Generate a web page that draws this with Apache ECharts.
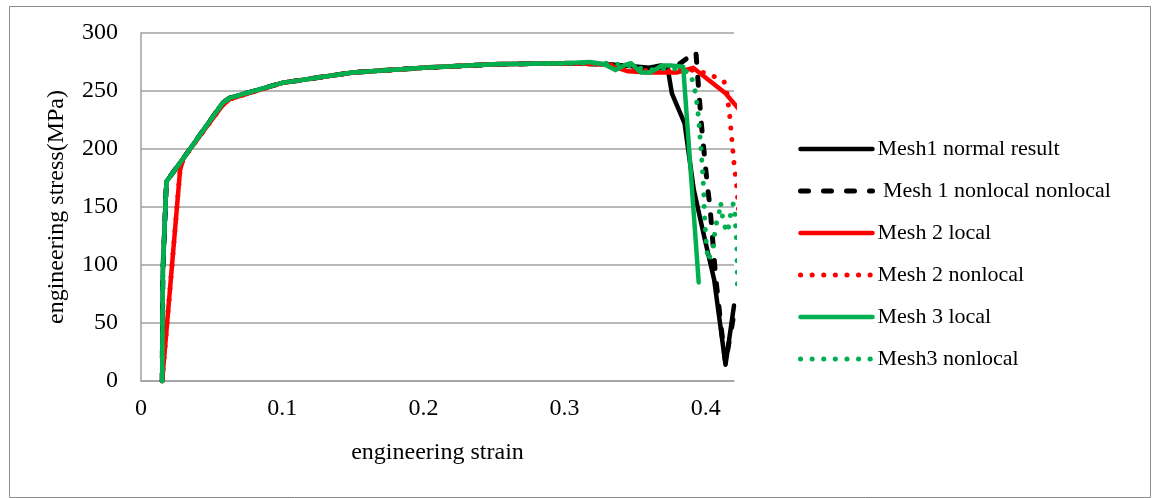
<!DOCTYPE html>
<html>
<head>
<meta charset="utf-8">
<script src="https://cdn.jsdelivr.net/npm/echarts@6/dist/echarts.min.js"></script>
<style>
html,body{margin:0;padding:0;background:#fff;}
#c{width:1153px;height:498px;}
</style>
</head>
<body>
<div id="c"></div>
<script>
// ---- data ----
const seriesNames = ['Mesh1 normal result', ' Mesh 1 nonlocal nonlocal', 'Mesh 2 local', 'Mesh 2 nonlocal', 'Mesh 3 local', 'Mesh3 nonlocal'];
const xTickLabels = ['0', '0.1', '0.2', '0.3', '0.4'];
const yTickLabels = ['0', '50', '100', '150', '200', '250', '300'];

const strainM1 = [0.015, 0.0155, 0.018, 0.03, 0.058, 0.063, 0.1, 0.15, 0.2, 0.25, 0.3, 0.33, 0.342, 0.36, 0.368, 0.373, 0.376, 0.385, 0.3915, 0.399, 0.406, 0.414, 0.42];
const stressM1 = [0, 95, 172, 192, 240, 244, 257, 266, 270, 273, 274, 273, 272, 270, 272, 270, 248, 222, 165, 124, 87, 14, 65];

const strainM1n = [0.015, 0.0155, 0.018, 0.03, 0.058, 0.063, 0.1, 0.15, 0.2, 0.25, 0.3, 0.33, 0.35, 0.37, 0.38, 0.393, 0.395, 0.397, 0.401, 0.403, 0.407, 0.411, 0.414, 0.42];
const stressM1n = [0, 95, 172, 192, 240, 244, 257, 266, 270, 273, 274, 273, 270, 270, 272, 284, 251, 220, 170, 150, 90, 45, 16, 58];

const strainM2 = [0.015, 0.0277, 0.03, 0.058, 0.063, 0.1, 0.15, 0.2, 0.25, 0.3, 0.33, 0.345, 0.36, 0.38, 0.391, 0.414, 0.425];
const stressM2 = [0, 182, 192, 238, 243, 257, 266, 270, 273, 274, 273, 267, 266, 266, 270, 248, 232];

const strainM2n = [0.015, 0.0277, 0.03, 0.058, 0.063, 0.1, 0.15, 0.2, 0.25, 0.3, 0.33, 0.35, 0.37, 0.38, 0.39, 0.398, 0.405, 0.413, 0.415, 0.417, 0.4185, 0.42, 0.422, 0.425];
const stressM2n = [0, 182, 192, 238, 243, 257, 266, 270, 273, 274, 273, 268, 267, 268, 268, 266, 263, 258, 248, 228, 208, 188, 167, 120];

const strainM3 = [0.015, 0.0155, 0.018, 0.03, 0.058, 0.063, 0.1, 0.15, 0.2, 0.25, 0.3, 0.318, 0.328, 0.336, 0.342, 0.347, 0.354, 0.361, 0.369, 0.375, 0.384, 0.395];
const stressM3 = [0, 95, 172, 192, 240, 244, 257, 266, 270, 273, 274, 275, 273, 268, 272, 274, 266, 266, 272, 272, 271, 85];

const strainM3n = [0.015, 0.0155, 0.018, 0.03, 0.058, 0.063, 0.1, 0.15, 0.2, 0.25, 0.3, 0.33, 0.345, 0.36, 0.375, 0.389, 0.391, 0.393, 0.394, 0.395, 0.3955, 0.3965, 0.398, 0.3985, 0.399, 0.4, 0.4015, 0.405, 0.406, 0.4075, 0.4095, 0.4105, 0.4125, 0.4155, 0.4175, 0.4195, 0.421, 0.4212, 0.422, 0.4225];
const stressM3n = [0, 95, 172, 192, 240, 244, 257, 266, 270, 273, 274, 274, 272, 268, 270, 266, 257, 247, 236, 226, 217, 202, 176, 165, 145, 124, 104, 113, 124, 136, 145, 154, 136, 128, 143, 153, 141, 130, 119, 78];

// ---- chart ----
function pairs(xs, ys) { return xs.map((x, i) => [x, ys[i]]); }
const FONT = '"Liberation Serif", "Times New Roman", serif';
const BLACK = '#000000', RED = '#FF0000', GREEN = '#00B050';

const chart = echarts.init(document.getElementById('c'), null, {renderer: 'canvas'});

function mk(name, xs, ys, color, type, width) {
  return {
    name: name, type: 'line', data: pairs(xs, ys),
    symbol: 'none', smooth: false, clip: true,
    lineStyle: {color: color, width: width, type: type, cap: 'round', join: 'round'},
    itemStyle: {color: color},
    emphasis: {disabled: true}
  };
}

chart.setOption({
  animation: false,
  backgroundColor: '#ffffff',
  graphic: [{
    type: 'rect', left: 7, top: 4, shape: {width: 1141, height: 491},
    style: {fill: 'none', stroke: '#8c8c8c', lineWidth: 1}, silent: true
  }],
  grid: {left: 141, top: 33, width: 593, height: 348, containLabel: false},
  legend: {
    orient: 'vertical', left: 793, top: 133,
    itemWidth: 72, itemHeight: 14, itemGap: 20,
    itemStyle: {opacity: 0},
    lineStyle: {width: 'inherit'},
    textStyle: {fontFamily: FONT, fontSize: 22, color: '#000'},
    data: seriesNames
  },
  xAxis: {
    type: 'value', min: 0, max: 0.42, interval: 0.1,
    name: 'engineering strain', nameLocation: 'middle', nameGap: 60,
    nameTextStyle: {fontFamily: FONT, fontSize: 24, color: '#000', verticalAlign: 'top'},
    axisLine: {show: true, lineStyle: {color: '#a0a0a0', width: 1.5}},
    axisTick: {show: false},
    splitLine: {show: false},
    axisLabel: {
      fontFamily: FONT, fontSize: 24, color: '#000', margin: 16, showMaxLabel: false,
      formatter: function (v) { const i = Math.round(v * 10); return xTickLabels[i] !== undefined ? xTickLabels[i] : ''; }
    }
  },
  yAxis: {
    type: 'value', min: 0, max: 300, interval: 50,
    name: 'engineering stress(MPa)', nameLocation: 'middle', nameGap: 72, nameRotate: 90,
    nameTextStyle: {fontFamily: FONT, fontSize: 24, color: '#000'},
    axisLine: {show: true, lineStyle: {color: '#a0a0a0', width: 1.5}},
    axisTick: {show: false},
    splitLine: {show: true, lineStyle: {color: '#a0a0a0', width: 1.5}},
    axisLabel: {
      fontFamily: FONT, fontSize: 24, color: '#000', margin: 23,
      formatter: function (v) { const i = Math.round(v / 50); return yTickLabels[i]; }
    }
  },
  series: [
    mk(seriesNames[0], strainM1, stressM1, BLACK, 'solid', 4.5),
    mk(seriesNames[1], strainM1n, stressM1n, BLACK, [8, 15], 5),
    mk(seriesNames[2], strainM2, stressM2, RED, 'solid', 4.5),
    mk(seriesNames[3], strainM2n, stressM2n, RED, [0.1, 11.5], 5),
    mk(seriesNames[4], strainM3, stressM3, GREEN, 'solid', 4.5),
    mk(seriesNames[5], strainM3n, stressM3n, GREEN, [0.1, 11.5], 5)
  ]
});
</script>
</body>
</html>
